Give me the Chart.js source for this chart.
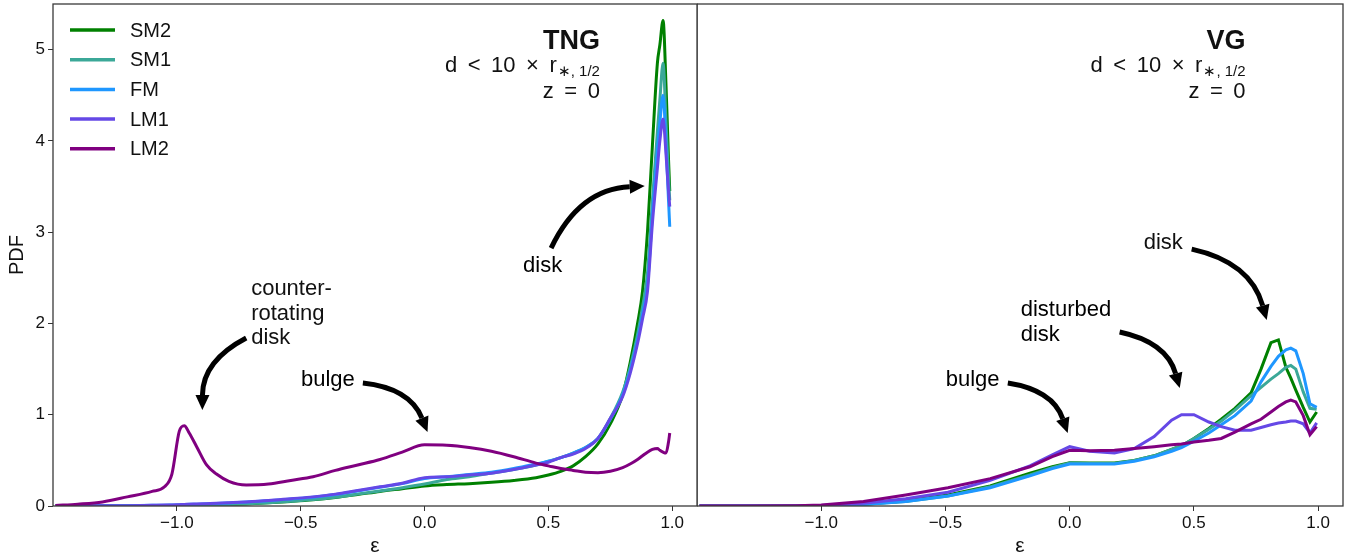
<!DOCTYPE html>
<html>
<head>
<meta charset="utf-8">
<script src="https://cdn.jsdelivr.net/npm/chart.js@4.4.0/dist/chart.umd.min.js"></script>
<style>
  html, body { margin: 0; padding: 0; background: #fff; }
  #wrap { position: relative; width: 1352px; height: 555px; }
  canvas { position: absolute; top: 0; }
  #left { left: 0; }
  #right { left: 697px; }
</style>
</head>
<body>
<div id="wrap">
  <canvas id="left" width="698" height="555"></canvas>
  <canvas id="right" width="655" height="555"></canvas>
</div>
<script>
/* ---------- data ---------- */
const seriesNames = ['SM2', 'SM1', 'FM', 'LM1', 'LM2'];
const seriesColors = ['#008000', '#3ba898', '#1f97ff', '#6548e6', '#800080'];

// TNG panel: circularity bins and PDF per merger class
const tngEps = [-1.49, -1.4, -1.3, -1.2, -1.1, -1.05, -1.02, -0.99, -0.97, -0.95,
  -0.92, -0.88, -0.84, -0.79, -0.72, -0.63, -0.54, -0.45, -0.36, -0.27,
  -0.18, -0.09, 0.0, 0.09, 0.18, 0.27, 0.36, 0.45, 0.5, 0.55,
  0.6, 0.65, 0.7, 0.75, 0.8, 0.83, 0.86, 0.88, 0.9, 0.92,
  0.94, 0.95, 0.963, 0.975, 0.985, 0.99];
const tngSM2 = [0, 0, 0, 0.001, 0.002, 0.003, 0.004, 0.005, 0.006, 0.007,
  0.008, 0.01, 0.012, 0.016, 0.023, 0.035, 0.05, 0.068, 0.093, 0.125,
  0.16, 0.19, 0.22, 0.235, 0.245, 0.26, 0.28, 0.31, 0.34, 0.38,
  0.44, 0.54, 0.68, 0.90, 1.22, 1.57, 2.0, 2.35, 3.0, 3.95,
  4.85, 5.05, 5.32, 4.6, 3.8, 3.45];
const tngSM1 = [0, 0, 0, 0.001, 0.003, 0.004, 0.005, 0.006, 0.007, 0.008,
  0.009, 0.011, 0.013, 0.017, 0.024, 0.036, 0.052, 0.07, 0.095, 0.13,
  0.165, 0.20, 0.24, 0.29, 0.32, 0.36, 0.40, 0.45, 0.49, 0.53,
  0.58, 0.64, 0.74, 0.96, 1.25, 1.52, 1.88, 2.18, 2.55, 3.35,
  4.1, 4.45, 4.85, 4.2, 3.6, 3.35];
const tngFM = [0, 0, 0.002, 0.004, 0.007, 0.009, 0.011, 0.013, 0.015, 0.018,
  0.02, 0.024, 0.028, 0.034, 0.043, 0.058, 0.077, 0.097, 0.125, 0.165,
  0.205, 0.245, 0.30, 0.32, 0.345, 0.37, 0.41, 0.46, 0.49, 0.53,
  0.58, 0.64, 0.74, 0.95, 1.22, 1.48, 1.82, 2.10, 2.42, 3.2,
  3.9, 4.2, 4.50, 3.95, 3.35, 3.06];
const tngLM1 = [0, 0, 0.002, 0.004, 0.008, 0.01, 0.012, 0.015, 0.017, 0.02,
  0.022, 0.026, 0.03, 0.036, 0.045, 0.06, 0.08, 0.10, 0.13, 0.17,
  0.21, 0.25, 0.31, 0.32, 0.34, 0.36, 0.40, 0.45, 0.48, 0.53,
  0.57, 0.63, 0.74, 0.96, 1.20, 1.45, 1.78, 2.05, 2.35, 3.1,
  3.7, 4.0, 4.24, 3.85, 3.45, 3.28];
const tngLM2 = [0.005, 0.02, 0.045, 0.10, 0.16, 0.21, 0.35, 0.82, 0.88, 0.80,
  0.65, 0.45, 0.35, 0.27, 0.23, 0.24, 0.28, 0.32, 0.39, 0.45,
  0.51, 0.59, 0.67, 0.665, 0.64, 0.60, 0.54, 0.47, 0.44, 0.41,
  0.39, 0.37, 0.365, 0.38, 0.42, 0.46, 0.51, 0.55, 0.59, 0.62,
  0.63, 0.61, 0.59, 0.58, 0.70, 0.80];

// VG panel
const vgEps = [-1.49, -1.3, -1.1, -1.0, -0.83, -0.66, -0.49, -0.32, -0.16, -0.07,
  0.0, 0.08, 0.18, 0.26, 0.34, 0.41, 0.45, 0.5, 0.56, 0.61,
  0.665, 0.73, 0.77, 0.81, 0.84, 0.87, 0.89, 0.91, 0.94, 0.967, 0.994];
const vgSM2 = [0, 0, 0, 0.004, 0.02, 0.055, 0.12, 0.22, 0.36, 0.43,
  0.475, 0.47, 0.47, 0.50, 0.55, 0.62, 0.66, 0.74, 0.85, 0.95,
  1.07, 1.24, 1.50, 1.79, 1.82, 1.52, 1.40, 1.27, 1.08, 0.92, 1.03];
const vgSM1 = [0, 0, 0, 0.003, 0.018, 0.05, 0.11, 0.21, 0.34, 0.42,
  0.47, 0.465, 0.465, 0.50, 0.55, 0.62, 0.66, 0.74, 0.84, 0.93,
  1.05, 1.21, 1.30, 1.39, 1.45, 1.52, 1.54, 1.50, 1.25, 1.07, 1.06];
const vgFM = [0, 0, 0, 0.003, 0.017, 0.05, 0.11, 0.20, 0.33, 0.41,
  0.46, 0.46, 0.46, 0.49, 0.54, 0.60, 0.64, 0.71, 0.80, 0.89,
  0.99, 1.15, 1.36, 1.53, 1.64, 1.71, 1.73, 1.70, 1.45, 1.12, 1.08];
const vgLM1 = [0, 0, 0, 0.005, 0.03, 0.08, 0.15, 0.28, 0.44, 0.56,
  0.65, 0.60, 0.58, 0.63, 0.76, 0.94, 1.0, 1.0, 0.92, 0.87,
  0.83, 0.83, 0.86, 0.89, 0.91, 0.92, 0.93, 0.93, 0.90, 0.80, 0.91];
const vgLM2 = [0, 0, 0.003, 0.01, 0.05, 0.12, 0.20, 0.30, 0.43, 0.54,
  0.61, 0.605, 0.61, 0.63, 0.65, 0.67, 0.68, 0.70, 0.72, 0.74,
  0.81, 0.90, 0.95, 1.03, 1.09, 1.14, 1.16, 1.14, 0.99, 0.78, 0.87];

const xTickValues = [-1.0, -0.5, 0.0, 0.5, 1.0];
const xTickLabels = ['\u22121.0', '\u22120.5', '0.0', '0.5', '1.0'];
const yTickValues = [0, 1, 2, 3, 4, 5];
const yTickLabels = ['0', '1', '2', '3', '4', '5'];

const FONT = "'Liberation Sans', Arial, sans-serif";
const INK = '#111';

/* ---------- helpers ---------- */
function makeDatasets(eps, columns, smooth) {
  return columns.map((vals, i) => ({
    label: seriesNames[i],
    data: eps.map((e, k) => ({ x: e, y: vals[k] })),
    borderColor: seriesColors[i],
    backgroundColor: seriesColors[i],
    borderWidth: 3,
    pointRadius: 0,
    fill: false,
    tension: 0,
    cubicInterpolationMode: smooth ? 'monotone' : 'default',
    order: columns.length - i
  }));
}

function drawArrow(ctx, xs, ys, a) {
  const x1 = xs.getPixelForValue(a.from[0]), y1 = ys.getPixelForValue(a.from[1]);
  const x2 = xs.getPixelForValue(a.to[0]), y2 = ys.getPixelForValue(a.to[1]);
  const dx = x2 - x1, dy = y2 - y1;
  const cx = (x1 + x2) / 2 + a.rad * dy;
  const cy = (y1 + y2) / 2 - a.rad * dx;
  const ang = Math.atan2(y2 - cy, x2 - cx);
  const hl = 15, hw = 7;
  const bx = x2 - hl * Math.cos(ang), by = y2 - hl * Math.sin(ang);
  ctx.strokeStyle = '#000';
  ctx.fillStyle = '#000';
  ctx.lineWidth = 5;
  ctx.lineCap = 'butt';
  ctx.beginPath();
  ctx.moveTo(x1, y1);
  ctx.quadraticCurveTo(cx, cy, bx, by);
  ctx.stroke();
  ctx.beginPath();
  ctx.moveTo(x2, y2);
  ctx.lineTo(bx + hw * Math.sin(ang), by - hw * Math.cos(ang));
  ctx.lineTo(bx - hw * Math.sin(ang), by + hw * Math.cos(ang));
  ctx.closePath();
  ctx.fill();
}

// frame, legend, panel header and annotations
const panelDecor = {
  id: 'panelDecor',
  afterDatasetsDraw(chart, args, opts) {
    const { ctx, chartArea: ca } = chart;
    const xs = chart.scales.x, ys = chart.scales.y;
    ctx.save();

    ctx.strokeStyle = '#3a3a3a';
    ctx.lineWidth = 1.3;
    ctx.strokeRect(ca.left, ca.top, ca.right - ca.left, ca.bottom - ca.top);

    if (opts.legend) {
      chart.data.datasets.forEach((ds, i) => {
        const yy = ca.top + 26 + i * 29.7;
        ctx.strokeStyle = ds.borderColor;
        ctx.lineWidth = 3.5;
        ctx.beginPath();
        ctx.moveTo(ca.left + 17, yy);
        ctx.lineTo(ca.left + 62, yy);
        ctx.stroke();
        ctx.fillStyle = INK;
        ctx.font = '20px ' + FONT;
        ctx.textAlign = 'left';
        ctx.textBaseline = 'middle';
        ctx.fillText(ds.label, ca.left + 77, yy + 1);
      });
    }

    // header: name, distance cut, redshift
    const h = opts.header;
    const hx = xs.getPixelForValue(h.x);
    ctx.fillStyle = INK;
    ctx.textBaseline = 'alphabetic';
    ctx.textAlign = 'right';
    ctx.font = 'bold 27px ' + FONT;
    ctx.fillText(h.name, hx, ys.getPixelForValue(h.y[0]));
    ctx.font = '15px ' + FONT;
    const sub = '\u2217, 1/2';
    const subW = ctx.measureText(sub).width;
    const by = ys.getPixelForValue(h.y[1]);
    ctx.fillText(sub, hx, by + 4);
    ctx.font = '22px ' + FONT;
    ctx.fillText('d\u2009 <\u2009 10\u2009 \u00d7\u2009 r', hx - subW - 1, by);
    ctx.fillText('z\u2009 =\u2009 0', hx, ys.getPixelForValue(h.y[2]));

    ctx.textAlign = 'left';
    ctx.font = '22px ' + FONT;
    opts.notes.forEach(n => {
      const tx = xs.getPixelForValue(n.at[0]);
      const ty = ys.getPixelForValue(n.at[1]);
      n.lines.forEach((ln, k) => ctx.fillText(ln, tx, ty + k * 24.5));
      drawArrow(ctx, xs, ys, n.arrow);
    });
    ctx.restore();
  }
};

function axisOptions(showY) {
  return {
    x: {
      type: 'linear',
      min: -1.5,
      max: 1.1,
      afterBuildTicks: axis => { axis.ticks = xTickValues.map(v => ({ value: v })); },
      afterFit: axis => { axis.height = 49; axis.paddingLeft = 0; axis.paddingRight = 0; },
      ticks: {
        callback: v => xTickLabels[xTickValues.indexOf(v)],
        font: { family: FONT, size: 17 },
        color: INK,
        padding: 2,
        maxRotation: 0,
        autoSkip: false
      },
      grid: { drawOnChartArea: false, drawTicks: true, tickLength: 5, color: '#333', tickWidth: 1 },
      border: { display: false },
      title: { display: true, text: 'ε', font: { family: FONT, size: 21, lineHeight: 0.86 }, color: INK, padding: { top: 3, bottom: 0 } }
    },
    y: {
      display: showY,
      min: 0,
      max: 5.5,
      afterBuildTicks: axis => { axis.ticks = yTickValues.map(v => ({ value: v })); },
      afterFit: axis => {
        if (showY) axis.width = 53;
        axis.paddingTop = 0;
        axis.paddingBottom = 0;
      },
      ticks: {
        callback: v => yTickLabels[yTickValues.indexOf(v)],
        font: { family: FONT, size: 17 },
        color: INK,
        padding: 3
      },
      grid: { drawOnChartArea: false, drawTicks: true, tickLength: 5, color: '#333', tickWidth: 1 },
      border: { display: false },
      title: { display: true, text: 'PDF', font: { family: FONT, size: 20 }, color: INK, padding: { top: 5, bottom: 0 } }
    }
  };
}

/* ---------- TNG ---------- */
new Chart(document.getElementById('left'), {
  type: 'line',
  data: { datasets: makeDatasets(tngEps, [tngSM2, tngSM1, tngFM, tngLM1, tngLM2], true) },
  options: {
    responsive: false,
    animation: false,
    devicePixelRatio: 1,
    layout: { padding: { top: 4, right: 1, left: 0, bottom: 0 } },
    scales: axisOptions(true),
    plugins: {
      legend: { display: false },
      tooltip: { enabled: false },
      panelDecor: {
        legend: true,
        header: { name: 'TNG', x: 0.708, y: [5.005, 4.754, 4.469] },
        notes: [
          { lines: ['counter-', 'rotating', 'disk'], at: [-0.70, 2.31],
            arrow: { from: [-0.72, 1.84], to: [-0.897, 1.051], rad: -0.3 } },
          { lines: ['bulge'], at: [-0.499, 1.314],
            arrow: { from: [-0.249, 1.347], to: [0.012, 0.81], rad: 0.3 } },
          { lines: ['disk'], at: [0.398, 2.563],
            arrow: { from: [0.511, 2.826], to: [0.889, 3.505], rad: 0.3 } }
        ]
      }
    }
  },
  plugins: [panelDecor]
});

/* ---------- VG ---------- */
new Chart(document.getElementById('right'), {
  type: 'line',
  data: { datasets: makeDatasets(vgEps, [vgSM2, vgSM1, vgFM, vgLM1, vgLM2], false) },
  options: {
    responsive: false,
    animation: false,
    devicePixelRatio: 1,
    layout: { padding: { top: 4, right: 9, left: 0, bottom: 0 } },
    scales: axisOptions(false),
    plugins: {
      legend: { display: false },
      tooltip: { enabled: false },
      panelDecor: {
        legend: false,
        header: { name: 'VG', x: 0.708, y: [5.005, 4.754, 4.469] },
        notes: [
          { lines: ['disk'], at: [0.298, 2.815],
            arrow: { from: [0.491, 2.815], to: [0.793, 2.037], rad: 0.3 } },
          { lines: ['disturbed', 'disk'], at: [-0.197, 2.081],
            arrow: { from: [0.201, 1.906], to: [0.443, 1.292], rad: 0.3 } },
          { lines: ['bulge'], at: [-0.499, 1.314],
            arrow: { from: [-0.249, 1.347], to: [-0.008, 0.80], rad: 0.3 } }
        ]
      }
    }
  },
  plugins: [panelDecor]
});
</script>
</body>
</html>
